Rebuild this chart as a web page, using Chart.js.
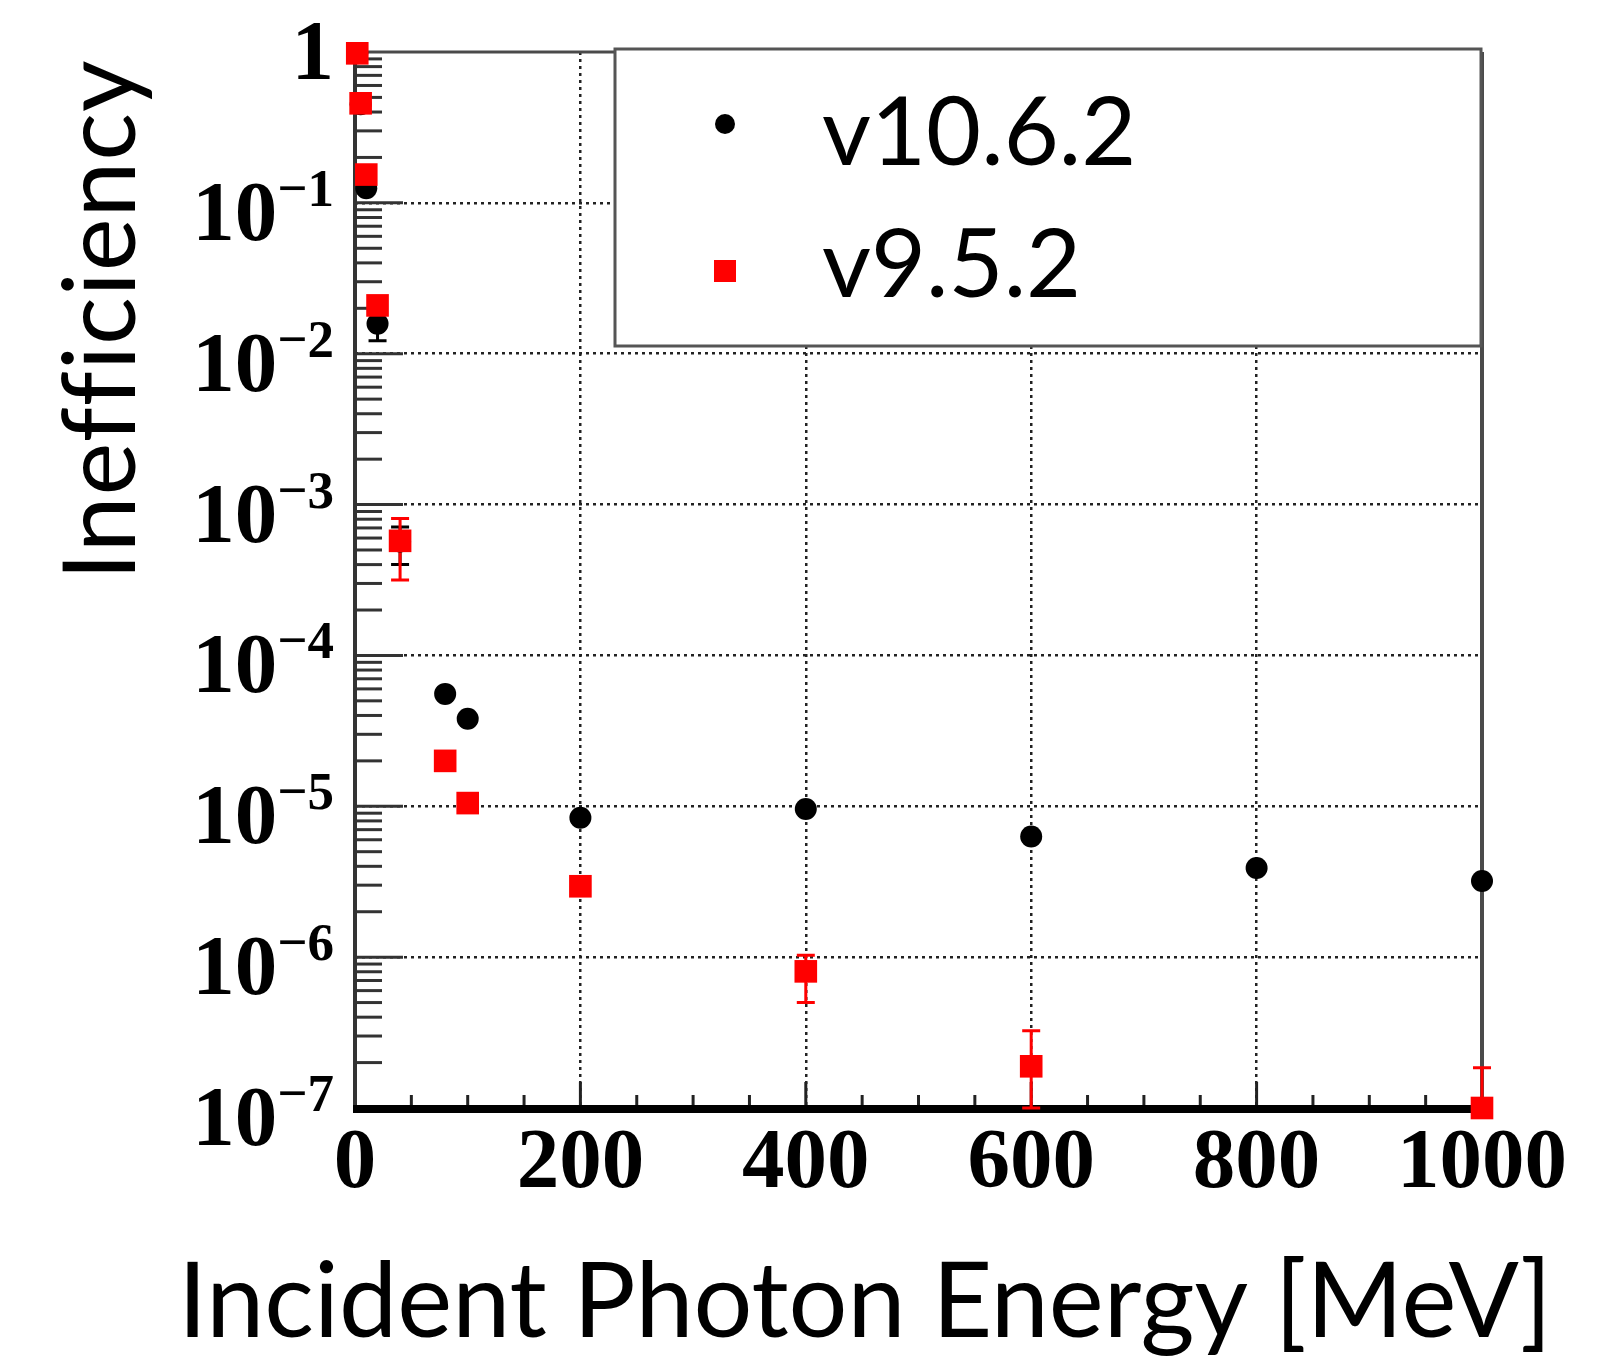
<!DOCTYPE html>
<html>
<head>
<meta charset="utf-8">
<script src="https://cdn.jsdelivr.net/npm/chart.js@4.4.1/dist/chart.umd.min.js"></script>
<style>
  html, body { margin: 0; padding: 0; background: #fff; }
  #wrap { width: 1598px; height: 1361px; }
</style>
</head>
<body>
<div id="wrap"><canvas id="ineffChart" width="1598" height="1361"></canvas></div>
<script>
// photon energies (MeV)
const energyMeV = [2, 5, 10, 20, 40, 80, 100, 200, 400, 600, 800, 1000];

// v10.6.2 inefficiency + error band (null = bar hidden under marker)
const ineffV10 = [0.98, 0.45, 0.125, 0.0158, 5.7e-4, 5.56e-5, 3.8e-5, 8.4e-6, 9.6e-6, 6.3e-6, 3.9e-6, 3.2e-6];
const errLoV10 = [null, null, null, 0.0122, 4.0e-4, null, null, null, null, null, null, null];
const errHiV10 = [null, null, null, 0.0195, 7.1e-4, null, null, null, null, null, null, null];

// v9.5.2 (no point at 800 MeV)
const ineffV9 = [0.98, 0.457, 0.154, 0.0209, 5.75e-4, 2.0e-5, 1.05e-5, 2.95e-6, 8.05e-7, 1.89e-7, null, 1.0e-7];
const errLoV9 = [null, null, null, null, 3.16e-4, null, null, 2.6e-6, 5.0e-7, 1e-8, null, 1e-8];
const errHiV9 = [null, null, null, null, 8.1e-4, null, null, 3.4e-6, 1.03e-6, 3.25e-7, null, 1.85e-7];

const xTicks = [0, 200, 400, 600, 800, 1000];
const yDecades = [1e-7, 1e-6, 1e-5, 1e-4, 1e-3, 1e-2, 1e-1, 1];
const seriesNames = ["v10.6.2", "v9.5.2"];

const TICK_FONT = "bold 85px 'Liberation Serif', 'DejaVu Serif', serif";
const SUP_FONT = "bold 53px 'Liberation Serif', 'DejaVu Serif', serif";
const TITLE_FAMILY = "Lato, 'Open Sans', sans-serif";

function toPts(ys) {
    return energyMeV.map((e, i) => ({ x: e, y: ys[i] }));
}

function isEdge(v, lo, hi) { return Math.abs(v - lo) < 1e-12 || Math.abs(v - hi) < 1e-12; }

// fit text to a target width by picking the font size
function fitFont(ctx, text, targetW, weight) {
    ctx.font = `${weight} 100px ${TITLE_FAMILY}`;
    const w = ctx.measureText(text).width;
    return Math.round(100 * targetW / w);
}

const rootStylePlugin = {
    id: 'rootStyle',
    beforeDatasetsDraw(chart) {
        const { ctx, chartArea: ca, scales: { x, y } } = chart;
        ctx.save();
        ctx.lineCap = 'butt';

        // top + right frame
        ctx.strokeStyle = '#4a4a4a'; ctx.lineWidth = 3;
        ctx.beginPath(); ctx.moveTo(ca.left, ca.top); ctx.lineTo(ca.right, ca.top); ctx.stroke();
        ctx.lineWidth = 4;
        ctx.beginPath(); ctx.moveTo(ca.right, ca.top); ctx.lineTo(ca.right, ca.bottom); ctx.stroke();

        // y axis with inside ticks
        ctx.strokeStyle = '#333'; ctx.lineWidth = 4;
        ctx.beginPath(); ctx.moveTo(ca.left, ca.top); ctx.lineTo(ca.left, ca.bottom); ctx.stroke();
        ctx.lineWidth = 3;
        for (let n = -7; n < 0; n++) {
            for (let k = 2; k <= 9; k++) {
                const py = y.getPixelForValue(k * Math.pow(10, n));
                ctx.beginPath(); ctx.moveTo(ca.left, py); ctx.lineTo(ca.left + 27, py); ctx.stroke();
            }
            if (n > -7) {
                const py = y.getPixelForValue(Math.pow(10, n));
                ctx.beginPath(); ctx.moveTo(ca.left, py); ctx.lineTo(ca.left + 48, py); ctx.stroke();
            }
        }

        // x axis ticks (major every 200, minor every 50)
        ctx.strokeStyle = '#222'; ctx.lineWidth = 3;
        for (let v = 50; v < 1000; v += 50) {
            const px = x.getPixelForValue(v);
            const len = v % 200 === 0 ? 26 : 13;
            ctx.beginPath(); ctx.moveTo(px, ca.bottom); ctx.lineTo(px, ca.bottom - len); ctx.stroke();
        }
        ctx.strokeStyle = '#000'; ctx.lineWidth = 8;
        ctx.beginPath(); ctx.moveTo(ca.left - 2, ca.bottom + 1); ctx.lineTo(ca.right, ca.bottom + 1); ctx.stroke();

        // error bars
        const bars = [
            { lo: errLoV10, hi: errHiV10, color: '#000' },
            { lo: errLoV9, hi: errHiV9, color: '#ff0000' }
        ];
        bars.forEach(b => {
            ctx.strokeStyle = b.color; ctx.lineWidth = 3;
            energyMeV.forEach((e, i) => {
                if (b.lo[i] === null) return;
                const px = x.getPixelForValue(e);
                const p1 = y.getPixelForValue(Math.max(b.lo[i], 1e-7));
                const p2 = y.getPixelForValue(Math.min(b.hi[i], 1));
                ctx.beginPath();
                ctx.moveTo(px, p1); ctx.lineTo(px, p2);
                ctx.moveTo(px - 9, p1); ctx.lineTo(px + 9, p1);
                ctx.moveTo(px - 9, p2); ctx.lineTo(px + 9, p2);
                ctx.stroke();
            });
        });
        ctx.restore();
    },
    afterDatasetsDraw(chart) {
        const { ctx } = chart;
        ctx.save();
        // legend box
        ctx.fillStyle = '#fff';
        ctx.fillRect(615, 49, 866, 297);
        ctx.strokeStyle = '#555'; ctx.lineWidth = 3;
        ctx.strokeRect(615, 49, 866, 297);

        const ds = chart.data.datasets;
        ctx.fillStyle = ds[0].backgroundColor;
        ctx.beginPath(); ctx.arc(725, 124, 10, 0, Math.PI * 2); ctx.fill();
        ctx.fillStyle = ds[1].backgroundColor;
        ctx.fillRect(714, 260, 22, 22);

        ctx.fillStyle = '#000';
        ctx.textAlign = 'left'; ctx.textBaseline = 'alphabetic';
        const sz = fitFont(ctx, seriesNames[0], 314, 'normal');
        ctx.font = `normal ${sz}px ${TITLE_FAMILY}`;
        ctx.fillText(ds[0].label, 822, 165);
        ctx.fillText(ds[1].label, 822, 297);
        ctx.restore();
    },
    afterDraw(chart) {
        const { ctx, chartArea: ca, scales: { x, y } } = chart;
        ctx.save();
        ctx.fillStyle = '#000';
        ctx.textBaseline = 'alphabetic';

        // y tick labels, ROOT style 10^-n
        const rx = 334;
        yDecades.forEach(d => {
            const py = y.getPixelForValue(d);
            const ex = Math.round(Math.log10(d));
            ctx.textAlign = 'right';
            if (ex === 0) {
                ctx.font = TICK_FONT;
                ctx.fillText('1', rx, py + 27);
                return;
            }
            const sup = '\u2212' + (-ex);
            ctx.font = SUP_FONT;
            const ws = ctx.measureText(sup).width;
            ctx.fillText(sup, rx, py + 3);
            ctx.font = TICK_FONT;
            ctx.fillText('10', rx - ws, py + 37);
        });

        // x tick labels
        ctx.font = TICK_FONT;
        ctx.textAlign = 'center';
        xTicks.forEach(v => ctx.fillText(String(v), x.getPixelForValue(v), 1187));

        // axis titles
        const xt = 'Incident Photon Energy [MeV]';
        ctx.font = `normal ${fitFont(ctx, xt, 1371, 'normal')}px ${TITLE_FAMILY}`;
        ctx.textAlign = 'left';
        ctx.fillText(xt, 178, 1337);

        // no ffi ligature in the original
        ctx.letterSpacing = '1px';
        const yt = 'Inefficiency';
        const ysz = fitFont(ctx, yt, 522, 'normal');
        ctx.font = `normal ${ysz}px ${TITLE_FAMILY}`;
        ctx.translate(135, 320);
        ctx.rotate(-Math.PI / 2);
        ctx.textAlign = 'center';
        ctx.fillText(yt, 0, 0);
        ctx.restore();
    }
};

new Chart(document.getElementById('ineffChart').getContext('2d'), {
    type: 'scatter',
    data: {
        datasets: [
            { label: seriesNames[0], data: toPts(ineffV10), backgroundColor: '#000', borderColor: '#000',
              pointStyle: 'circle', pointRadius: 11, pointHoverRadius: 11, borderWidth: 0, order: 2, clip: false },
            { label: seriesNames[1], data: toPts(ineffV9), backgroundColor: '#ff0000', borderColor: '#ff0000',
              pointStyle: 'rect', pointRadius: 16, pointHoverRadius: 16, borderWidth: 0, order: 1, clip: false }
        ]
    },
    options: {
        responsive: false,
        animation: false,
        events: [],
        layout: { padding: { top: 52, right: 116, left: 0, bottom: 0 } },
        plugins: { legend: { display: false }, tooltip: { enabled: false } },
        scales: {
            x: {
                type: 'linear', min: 0, max: 1000,
                afterBuildTicks: s => { s.ticks = xTicks.map(v => ({ value: v })); },
                afterFit: s => { s.height = 253; },
                ticks: { display: false },
                grid: { drawTicks: false, lineWidth: 2.5, color: c => isEdge(c.tick.value, 0, 1000) ? 'rgba(0,0,0,0)' : '#222' },
                border: { display: false, dash: [3, 4] }
            },
            y: {
                type: 'logarithmic', min: 1e-7, max: 1,
                afterBuildTicks: s => { s.ticks = yDecades.map(v => ({ value: v })); },
                afterFit: s => { s.width = 355; },
                ticks: { display: false },
                grid: { drawTicks: false, lineWidth: 2.5, color: c => isEdge(c.tick.value, 1e-7, 1) ? 'rgba(0,0,0,0)' : '#222' },
                border: { display: false, dash: [3, 4] }
            }
        }
    },
    plugins: [rootStylePlugin]
});
</script>
</body>
</html>
